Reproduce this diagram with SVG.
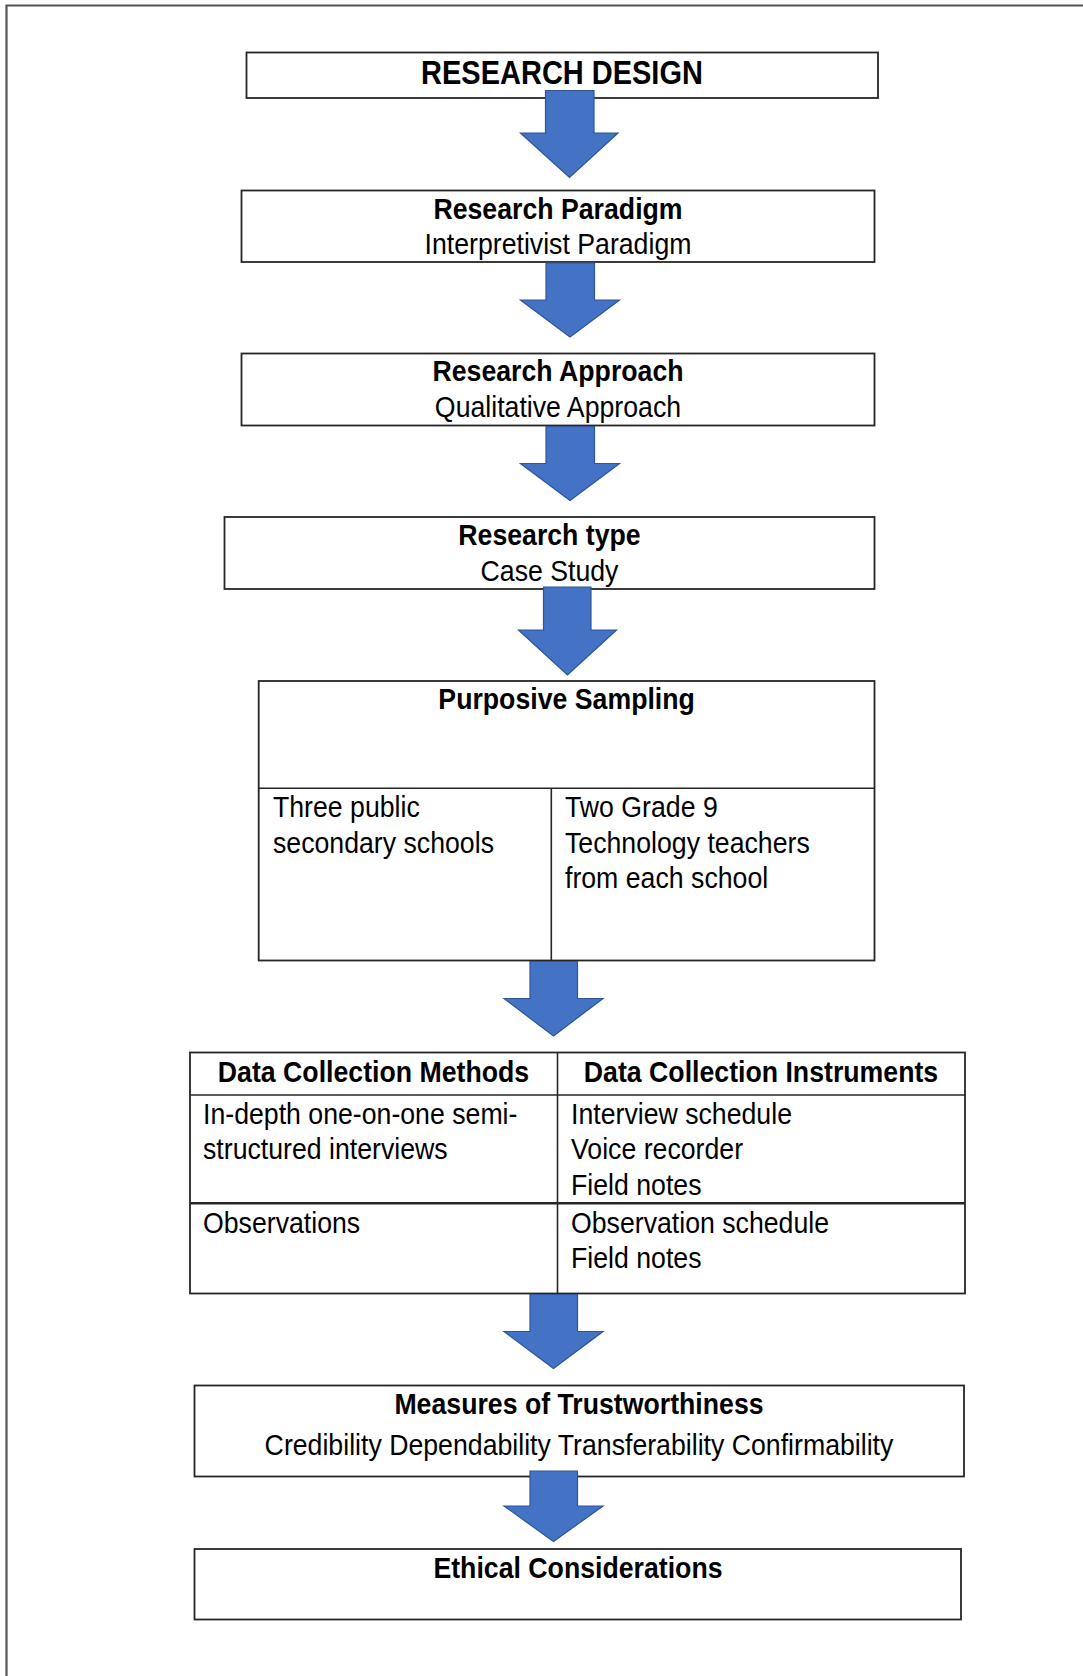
<svg xmlns="http://www.w3.org/2000/svg" width="1083" height="1676" viewBox="0 0 1083 1676">
<style>
.box{fill:#fff;stroke:#262626;stroke-width:1.8}
.div{stroke:#262626;stroke-width:1.6;fill:none}
.arr{fill:#4472C4;stroke:#2F5597;stroke-width:1.2;stroke-linejoin:miter}
text{font-family:"Liberation Sans",Arial,sans-serif;font-size:26.7px;fill:#000}
.b{font-weight:bold}
.c{text-anchor:middle}
</style>
<rect width="1083" height="1676" fill="#fff"/>
<path d="M1083 5.5H6.5V1676" fill="none" stroke="#555" stroke-width="2.2"/>

<g id="n1">
<rect class="box" x="246.5" y="52.5" width="631.5" height="45.5"/>
<text class="b c" x="562" y="0" transform="matrix(1 0 0 1.12 0 83.5)" style="font-size:29px">RESEARCH DESIGN</text>
</g>
<g id="n2">
<rect class="box" x="241.5" y="190.5" width="633" height="71.5"/>
<text class="b c" x="558" y="0" transform="matrix(1 0 0 1.12 0 218.5)">Research Paradigm</text>
<text class="c" x="558" y="0" transform="matrix(1 0 0 1.12 0 253.5)">Interpretivist Paradigm</text>
</g>
<g id="n3">
<rect class="box" x="241.5" y="353.5" width="633" height="72"/>
<text class="b c" x="558" y="0" transform="matrix(1 0 0 1.12 0 381)">Research Approach</text>
<text class="c" x="558" y="0" transform="matrix(1 0 0 1.12 0 417)">Qualitative Approach</text>
</g>
<g id="n4">
<rect class="box" x="224.5" y="517" width="650" height="72"/>
<text class="b c" x="549.5" y="0" transform="matrix(1 0 0 1.12 0 545)">Research type</text>
<text class="c" x="549.5" y="0" transform="matrix(1 0 0 1.12 0 580.5)">Case Study</text>
</g>
<g id="n5">
<rect class="box" x="258.7" y="681" width="615.8" height="279.5"/>
<line class="div" x1="258.7" y1="788.3" x2="874.5" y2="788.3"/>
<line class="div" x1="551.3" y1="788.3" x2="551.3" y2="960.5"/>
<text class="b c" x="566.6" y="0" transform="matrix(1 0 0 1.12 0 709)">Purposive Sampling</text>
<text x="273" y="0" transform="matrix(1 0 0 1.12 0 817)">Three public</text>
<text x="273" y="0" transform="matrix(1 0 0 1.12 0 852.5)">secondary schools</text>
<text x="565" y="0" transform="matrix(1 0 0 1.12 0 817)">Two Grade 9</text>
<text x="565" y="0" transform="matrix(1 0 0 1.12 0 852.5)">Technology teachers</text>
<text x="565" y="0" transform="matrix(1 0 0 1.12 0 888)">from each school</text>
</g>
<g id="n6">
<rect class="box" x="190" y="1052.5" width="775" height="241"/>
<line class="div" x1="190" y1="1095" x2="965" y2="1095"/>
<line class="div" x1="190" y1="1203.3" x2="965" y2="1203.3" style="stroke-width:2.4"/>
<line class="div" x1="557.5" y1="1052.5" x2="557.5" y2="1293.5"/>
<text class="b c" x="373.5" y="0" transform="matrix(1 0 0 1.12 0 1081.5)">Data Collection Methods</text>
<text class="b c" x="761" y="0" transform="matrix(1 0 0 1.12 0 1081.5)">Data Collection Instruments</text>
<text x="203" y="0" transform="matrix(1 0 0 1.12 0 1124)">In-depth one-on-one semi-</text>
<text x="203" y="0" transform="matrix(1 0 0 1.12 0 1159)">structured interviews</text>
<text x="571" y="0" transform="matrix(1 0 0 1.12 0 1124)">Interview schedule</text>
<text x="571" y="0" transform="matrix(1 0 0 1.12 0 1159)">Voice recorder</text>
<text x="571" y="0" transform="matrix(1 0 0 1.12 0 1195)">Field notes</text>
<text x="203" y="0" transform="matrix(1 0 0 1.12 0 1232.5)">Observations</text>
<text x="571" y="0" transform="matrix(1 0 0 1.12 0 1232.5)">Observation schedule</text>
<text x="571" y="0" transform="matrix(1 0 0 1.12 0 1267.5)">Field notes</text>
</g>
<g id="n7">
<rect class="box" x="194.5" y="1385.5" width="769.5" height="91"/>
<text class="b c" x="579" y="0" transform="matrix(1 0 0 1.12 0 1413.5)">Measures of Trustworthiness</text>
<text class="c" x="579" y="0" transform="matrix(1 0 0 1.12 0 1455)">Credibility Dependability Transferability Confirmability</text>
</g>
<g id="n8">
<rect class="box" x="194.5" y="1549" width="766.5" height="70.5"/>
<text class="b c" x="578" y="0" transform="matrix(1 0 0 1.12 0 1577.5)">Ethical Considerations</text>
</g>

<g id="connectors">
<path class="arr" d="M545.5 90.5H594V133H618L569.5 177.5L520.5 133H545.5Z"/>
<path class="arr" d="M546 263H594.5V300H619.5L570 337L520.5 300H546Z"/>
<path class="arr" d="M546 426.5H594.5V463.5H619.5L570 500.5L520.5 463.5H546Z"/>
<path class="arr" d="M543.5 587H591V630H616.5L567.5 675L518.5 630H543.5Z"/>
<path class="arr" d="M530 961.5H577.5V998.5H603L553.5 1036L504 998.5H530Z"/>
<path class="arr" d="M530 1294.5H577.5V1331.5H603L553.5 1368.5L504 1331.5H530Z"/>
<path class="arr" d="M530 1471H577.5V1506H603L553.5 1541.5L504 1506H530Z"/>
</g>
</svg>
